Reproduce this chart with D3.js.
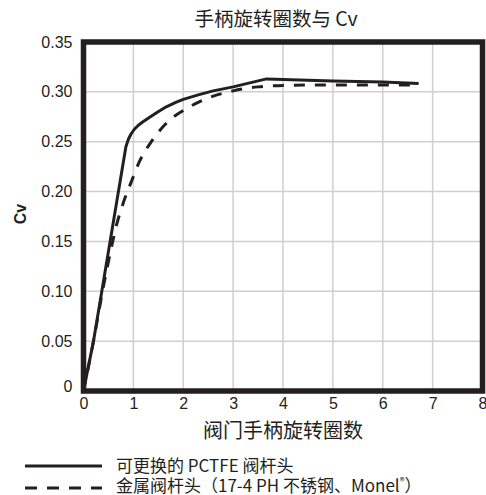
<!DOCTYPE html>
<html><head><meta charset="utf-8">
<script src="https://cdn.jsdelivr.net/npm/d3@7"></script>
<style>
body{margin:0;background:#fff;}
svg{display:block;}
</style></head>
<body>
<svg id="c" width="486" height="495"></svg>
<script>
const xTicks = [0,1,2,3,4,5,6,7,8];
const yTicks = [0,0.05,0.10,0.15,0.20,0.25,0.30,0.35];
const yTickLabels = ["0","0.05","0.10","0.15","0.20","0.25","0.30","0.35"];
const pctfeX = [0,0.2,0.5,0.85,0.9,0.95,1.02,1.1,1.2,1.32,1.48,1.66,1.85,2.0,2.3,2.6,3.0,3.67,5.0,6.0,6.72];
const pctfeY = [0,0.05,0.14,0.245,0.2525,0.2575,0.2625,0.2665,0.2702,0.2742,0.2795,0.285,0.2895,0.2924,0.297,0.301,0.305,0.313,0.311,0.310,0.3085];
const metalX = [0,0.2,0.4,0.56,0.66,0.8,0.96,1.13,1.36,1.69,2.06,2.46,3.0,3.5,4.0,5.0,6.0,6.73];
const metalY = [0,0.05,0.105,0.144,0.166,0.189,0.21,0.231,0.25,0.27,0.283,0.293,0.301,0.305,0.3065,0.307,0.307,0.307];
const title = "手柄旋转圈数与 Cv";
const xLabel = "阀门手柄旋转圈数";
const yLabel = "Cv";
const legend1 = "可更换的 PCTFE 阀杆头";
const legend2a = "金属阀杆头（17-4 PH 不锈钢、Monel";
const legend2b = "®";
const legend2c = "）";

const svg = d3.select("#c");
const L=83.5, R=482.5, T=42, B=391;
const x = d3.scaleLinear().domain([0,8]).range([L,R]);
const y = d3.scaleLinear().domain([0,0.35]).range([B,T]);
const ink = "#231f20";
const cjk = "'Noto Sans CJK SC','Noto Sans',sans-serif";
const lat = "'Liberation Sans',Arial,sans-serif";

// grid
svg.append("g").selectAll("line").data(xTicks).join("line")
  .attr("x1",d=>x(d)).attr("x2",d=>x(d)).attr("y1",T).attr("y2",B)
  .attr("stroke","#cfcfcf").attr("stroke-width",1.5);
svg.append("g").selectAll("line").data(yTicks).join("line")
  .attr("x1",L).attr("x2",R).attr("y1",d=>y(d)).attr("y2",d=>y(d))
  .attr("stroke","#cfcfcf").attr("stroke-width",1.5);

// axes labels via d3 axes
const xAxis = svg.append("g").attr("transform",`translate(0,${B})`)
  .call(d3.axisBottom(x).tickValues(xTicks).tickSize(0).tickPadding(6).tickFormat(d3.format("d")));
xAxis.select(".domain").remove();
xAxis.selectAll("text").attr("font-family",lat).attr("font-size",16).attr("fill",ink).attr("dy","0.75em");

const yAxis = svg.append("g").attr("transform",`translate(${L},0)`)
  .call(d3.axisLeft(y).tickValues(yTicks).tickSize(0).tickPadding(11).tickFormat((d,i)=>yTickLabels[i]));
yAxis.select(".domain").remove();
yAxis.selectAll("text").attr("font-family",lat).attr("font-size",16).attr("fill",ink);
yAxis.selectAll(".tick").filter(d=>d===0).select("text").attr("dy","0.0em");

// lines
const clip = svg.append("clipPath").attr("id","cp").append("rect")
  .attr("x",L).attr("y",T).attr("width",R-L).attr("height",B-T);
const g = svg.append("g").attr("clip-path","url(#cp)");
g.append("path").datum(metalX.map((v,i)=>[v,metalY[i]]))
  .attr("d",d3.line().x(d=>x(d[0])).y(d=>y(d[1])).curve(d3.curveMonotoneX))
  .attr("fill","none").attr("stroke",ink).attr("stroke-width",3).attr("stroke-dasharray","11,10");
g.append("path").datum(pctfeX.map((v,i)=>[v,pctfeY[i]]))
  .attr("d",d3.line().x(d=>x(d[0])).y(d=>y(d[1])))
  .attr("fill","none").attr("stroke",ink).attr("stroke-width",3).attr("stroke-linejoin","round");

// frame
svg.append("rect").attr("x",L).attr("y",T).attr("width",R-L).attr("height",B-T)
  .attr("fill","none").attr("stroke",ink).attr("stroke-width",5.5);

// titles
svg.append("text").attr("x",276).attr("y",26).attr("text-anchor","middle")
  .attr("font-family",cjk).attr("font-size",19.5).attr("fill",ink).text(title);
svg.append("text").attr("x",283).attr("y",438).attr("text-anchor","middle")
  .attr("font-family",cjk).attr("font-size",20).attr("fill",ink).text(xLabel);
svg.append("text").attr("transform","translate(26,214) rotate(-90)").attr("text-anchor","middle")
  .attr("font-family",lat).attr("font-size",16).attr("font-weight","bold").attr("fill",ink).text(yLabel);

// legend
svg.append("line").attr("x1",25).attr("x2",102).attr("y1",466).attr("y2",466)
  .attr("stroke",ink).attr("stroke-width",3);
svg.append("line").attr("x1",25).attr("x2",102).attr("y1",488).attr("y2",488)
  .attr("stroke",ink).attr("stroke-width",3).attr("stroke-dasharray","12,10");
svg.append("text").attr("x",116).attr("y",472).attr("font-family",cjk).attr("font-size",17).attr("fill",ink).text(legend1);
const t2 = svg.append("text").attr("x",116).attr("y",492).attr("font-family",cjk).attr("font-size",17).attr("fill",ink);
t2.append("tspan").text(legend2a);
t2.append("tspan").attr("font-size",10).attr("dy",-7).text(legend2b);
t2.append("tspan").attr("dy",7).text(legend2c);
</script>
</body></html>
